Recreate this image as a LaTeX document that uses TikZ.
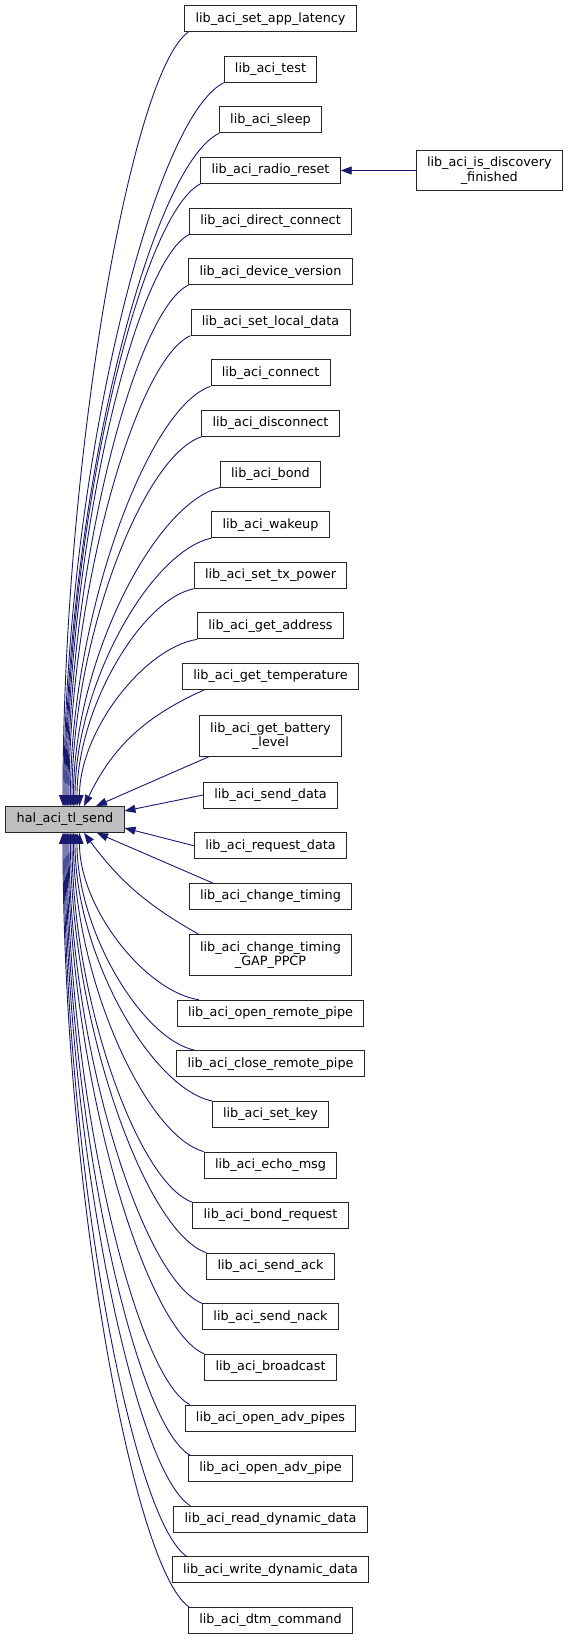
\documentclass[tikz,border=0pt]{standalone}
\usepackage{fontspec}
\setmainfont{DejaVu Sans}
\usetikzlibrary{arrows.meta,calc}
\definecolor{midnight}{HTML}{191970}
\definecolor{halgrey}{HTML}{BFBFBF}

\begin{document}
\begin{tikzpicture}[x=1pt, y=-1pt,
  fn/.style={draw=black!85, line width=0.9pt, fill=white, align=center, inner xsep=10.8pt, inner ysep=6.6pt, minimum height=26pt, font=\fontsize{12.8}{14.5}\selectfont},
  calls/.style={draw=midnight, line width=0.9pt, -{Triangle[length=11pt,width=8pt]}},
  sweep/.style={to path={let \p1=(\tikztostart), \p2=(\tikztotarget) in
    .. controls ({\x1+0.45*(\x2-\x1)},{\y1+0.05*(\y2-\y1)}) and (\x2,{\y2+0.45*(\y1-\y2)}) .. (\tikztotarget)}}]
  \useasboundingbox (0,0) rectangle (568,1640);
  % callee
  \node[fn, fill=halgrey] (tl) at (65,819.5) {hal\_aci\_tl\_send};
  % callers
  \node[fn] (applat)  at (270.5,18.7)   {lib\_aci\_set\_app\_latency};
  \node[fn] (test)    at (270.5,69.3)   {lib\_aci\_test};
  \node[fn] (sleep)   at (270.5,119.9)  {lib\_aci\_sleep};
  \node[fn] (reset)   at (270.5,170.5)  {lib\_aci\_radio\_reset};
  \node[fn] (dconn)   at (270.5,221.1)  {lib\_aci\_direct\_connect};
  \node[fn] (devver)  at (270.5,271.7)  {lib\_aci\_device\_version};
  \node[fn] (locdata) at (270.5,322.3)  {lib\_aci\_set\_local\_data};
  \node[fn] (conn)    at (270.5,372.9)  {lib\_aci\_connect};
  \node[fn] (disconn) at (270.5,423.5)  {lib\_aci\_disconnect};
  \node[fn] (bond)    at (270.5,474.1)  {lib\_aci\_bond};
  \node[fn] (wake)    at (270.5,524.7)  {lib\_aci\_wakeup};
  \node[fn] (txpow)   at (270.5,575.3)  {lib\_aci\_set\_tx\_power};
  \node[fn] (addr)    at (270.5,625.9)  {lib\_aci\_get\_address};
  \node[fn] (temp)    at (270.5,676.5)  {lib\_aci\_get\_temperature};
  \node[fn] (batt)    at (270.5,736)    {lib\_aci\_get\_battery\\\_level};
  \node[fn] (send)    at (270.5,795)    {lib\_aci\_send\_data};
  \node[fn] (req)     at (270.5,845.8)  {lib\_aci\_request\_data};
  \node[fn] (timing)  at (270.5,896.5)  {lib\_aci\_change\_timing};
  \node[fn] (gap)     at (270.5,955)    {lib\_aci\_change\_timing\\\_GAP\_PPCP};
  \node[fn] (openrp)  at (270.5,1013.2) {lib\_aci\_open\_remote\_pipe};
  \node[fn] (closerp) at (270.5,1063.8) {lib\_aci\_close\_remote\_pipe};
  \node[fn] (setkey)  at (270.5,1114.4) {lib\_aci\_set\_key};
  \node[fn] (echo)    at (270.5,1165)   {lib\_aci\_echo\_msg};
  \node[fn] (bondreq) at (270.5,1215.6) {lib\_aci\_bond\_request};
  \node[fn] (ack)     at (270.5,1266.2) {lib\_aci\_send\_ack};
  \node[fn] (nack)    at (270.5,1316.8) {lib\_aci\_send\_nack};
  \node[fn] (bcast)   at (270.5,1367.4) {lib\_aci\_broadcast};
  \node[fn] (advs)    at (270.5,1418)   {lib\_aci\_open\_adv\_pipes};
  \node[fn] (adv)     at (270.5,1468.6) {lib\_aci\_open\_adv\_pipe};
  \node[fn] (rdyn)    at (270.5,1519.2) {lib\_aci\_read\_dynamic\_data};
  \node[fn] (wdyn)    at (270.5,1569.8) {lib\_aci\_write\_dynamic\_data};
  \node[fn] (dtm)     at (270.5,1620.4) {lib\_aci\_dtm\_command};
  \node[fn] (disc)    at (489.3,170.5)  {lib\_aci\_is\_discovery\\\_finished};
  % calls into hal_aci_tl_send, upper half
  \draw[calls] ([xshift=4pt]applat.south west) to[sweep] ([xshift=-2pt]tl.north);
  \draw[calls] (test.south west)    to[sweep] ([xshift=-1pt]tl.north);
  \draw[calls] (sleep.south west)   to[sweep] (tl.north);
  \draw[calls] (reset.south west)   to[sweep] ([xshift=1pt]tl.north);
  \draw[calls] (dconn.south west)   to[sweep] ([xshift=2pt]tl.north);
  \draw[calls] (devver.south west)  to[sweep] ([xshift=3pt]tl.north);
  \draw[calls] (locdata.south west) to[sweep] ([xshift=4pt]tl.north);
  \draw[calls] (conn.south west)    to[sweep] ([xshift=5.5pt]tl.north);
  \draw[calls] (disconn.south west) to[sweep] ([xshift=7pt]tl.north);
  \draw[calls] (bond.south west)    to[sweep] ([xshift=8.5pt]tl.north);
  \draw[calls] (wake.south west)    to[sweep] ([xshift=10pt]tl.north);
  \draw[calls] (txpow.south west)   to[sweep] ([xshift=12pt]tl.north);
  \draw[calls] (addr.south west)    to[sweep] ([xshift=14.5pt]tl.north);
  \draw[calls] ([xshift=22pt]temp.south west) to[bend right=20] ([xshift=19pt]tl.north);
  \draw[calls] ([xshift=10pt]batt.south west) -- ([xshift=31pt]tl.north);
  \draw[calls] (send.west) -- ([yshift=8.5pt]tl.east);
  \draw[calls] (req.west)  -- ([yshift=-8.5pt]tl.east);
  % lower half
  \draw[calls] ([xshift=24pt]timing.north west) -- ([xshift=32pt]tl.south);
  \draw[calls] ([xshift=10pt]gap.north west) to[bend left=12] ([xshift=19pt]tl.south);
  \draw[calls] ([xshift=22pt]openrp.north west)  to[sweep] ([xshift=14.5pt]tl.south);
  \draw[calls] ([xshift=19pt]closerp.north west) to[sweep] ([xshift=12pt]tl.south);
  \draw[calls] (setkey.north west)  to[sweep] ([xshift=10pt]tl.south);
  \draw[calls] (echo.north west)    to[sweep] ([xshift=8.5pt]tl.south);
  \draw[calls] (bondreq.north west) to[sweep] ([xshift=7pt]tl.south);
  \draw[calls] (ack.north west)     to[sweep] ([xshift=5.5pt]tl.south);
  \draw[calls] (nack.north west)    to[sweep] ([xshift=4pt]tl.south);
  \draw[calls] (bcast.north west)   to[sweep] ([xshift=3pt]tl.south);
  \draw[calls] ([xshift=5pt]advs.north west)  to[sweep] ([xshift=2pt]tl.south);
  \draw[calls] ([xshift=2pt]adv.north west)   to[sweep] ([xshift=1pt]tl.south);
  \draw[calls] ([xshift=17pt]rdyn.north west) to[sweep] (tl.south);
  \draw[calls] ([xshift=15pt]wdyn.north west) to[sweep] ([xshift=-1pt]tl.south);
  \draw[calls] ([xshift=1pt]dtm.north west)   to[sweep] ([xshift=-2pt]tl.south);
  % second level
  \draw[calls] (disc) -- (reset);
\end{tikzpicture}
\end{document}
